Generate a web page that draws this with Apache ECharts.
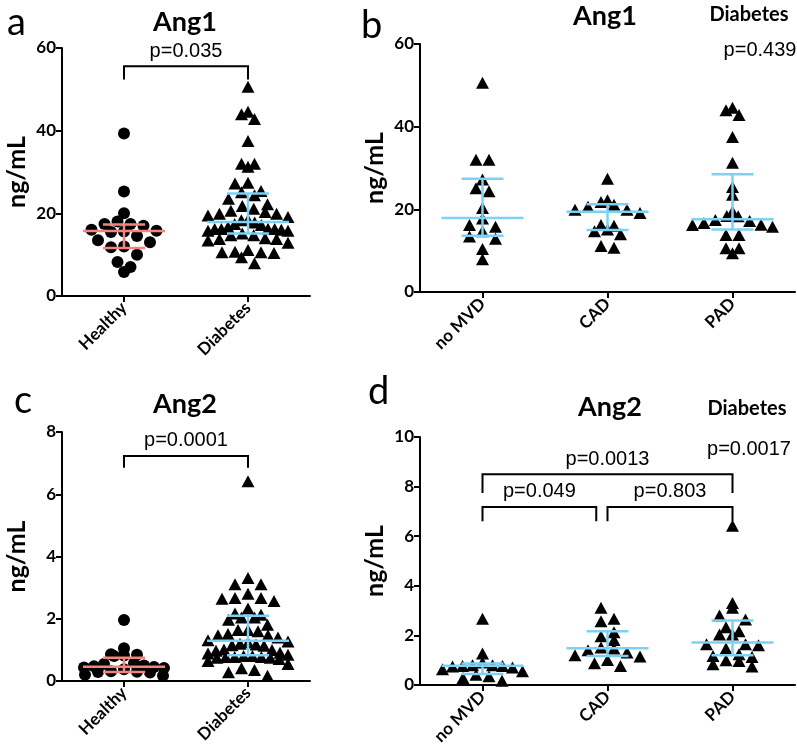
<!DOCTYPE html>
<html>
<head>
<meta charset="utf-8">
<script src="https://cdn.jsdelivr.net/npm/echarts@6/dist/echarts.min.js"></script>
<style>
html,body{margin:0;padding:0;background:#fff;}
#chart{width:797px;height:755px;}
</style>
</head>
<body>
<div id="chart"></div>
<script>
// ---------------- DATA ----------------
const catsHealthyDiabetes = ['Healthy', 'Diabetes'];
const catsDiabetesGroups = ['no MVD', 'CAD', 'PAD'];

// Ang1 (ng/mL)
const ang1Healthy = [39.3, 25.3, 20.0, 18.0, 17.4, 17.4, 17.0, 16.0, 15.8, 15.6, 15.5, 14.5, 13.5, 13.0, 12.0, 11.8, 10.0, 8.2, 7.0, 5.8];
const ang1NoMVD = [50.6, 32.0, 32.0, 27.2, 25.1, 24.4, 20.3, 17.8, 16.2, 15.8, 14.7, 13.4, 12.9, 10.4, 7.9];
const ang1CAD = [27.4, 22.2, 21.8, 21.1, 20.6, 19.9, 19.9, 19.1, 16.2, 16.0, 15.1, 14.7, 14.0, 11.1, 10.7];
const ang1PAD = [44.6, 44.0, 42.8, 37.5, 31.3, 25.4, 23.5, 19.5, 18.4, 18.3, 17.4, 17.2, 16.7, 16.3, 16.2, 15.8, 13.8, 13.8, 10.6, 10.6, 9.4];
const ang1Diabetes = ang1NoMVD.concat(ang1CAD, ang1PAD);

// Ang2 (ng/mL)
const ang2Healthy = [1.96, 1.05, 0.86, 0.84, 0.82, 0.80, 0.57, 0.55, 0.50, 0.47, 0.45, 0.43, 0.42, 0.38, 0.31, 0.30, 0.29, 0.27, 0.20, 0.17];
const ang2NoMVD = [2.67, 1.27, 0.91, 0.80, 0.80, 0.77, 0.77, 0.75, 0.71, 0.64, 0.55, 0.41, 0.35, 0.28, 0.17];
const ang2CAD = [3.11, 2.67, 2.57, 2.13, 1.97, 1.81, 1.51, 1.47, 1.40, 1.31, 1.20, 1.15, 1.01, 0.88, 0.77];
const ang2PAD = [6.42, 3.31, 3.11, 2.80, 2.64, 2.33, 2.17, 2.04, 2.04, 1.64, 1.64, 1.60, 1.47, 1.24, 1.17, 1.13, 1.00, 0.97, 0.84, 0.75];
const ang2Diabetes = ang2NoMVD.concat(ang2CAD, ang2PAD);

// median, Q1, Q3 as drawn
const ang1StatsA = [[15.7, 11.6, 17.3], [17.9, 15.1, 24.8]];
const ang1StatsB = [[17.9, 13.6, 27.4], [19.4, 15.0, 21.2], [17.6, 15.1, 28.5]];
const ang2StatsC = [[0.46, 0.29, 0.75], [1.29, 0.83, 2.10]];
const ang2StatsD = [[0.78, 0.44, 0.87], [1.48, 1.17, 2.17], [1.71, 1.20, 2.60]];

const yTicksAng1 = [0, 20, 40, 60];
const yTicksAng2A = [0, 2, 4, 6, 8];
const yTicksAng2B = [0, 2, 4, 6, 8, 10];

// ---------------- LAYOUT / STYLE ----------------
const PINK = '#F4857E';
const BLUE = '#7DD1F5';
const LABEL_FONT = 'Lato';
const P_FONT = '"Liberation Sans", Arial, sans-serif';

const panels = [
  { grid: {left: 62, top: 48, width: 248, height: 248}, cats: catsHealthyDiabetes,
    groups: [ang1Healthy, ang1Diabetes], symbols: ['circle', 'triangle'], colors: [PINK, BLUE],
    stats: ang1StatsA, ticks: yTicksAng1,
    brackets: [{from: 0, to: 1, top: 55.6, drop: 52.4, text: 'p=0.035'}] },
  { grid: {left: 420, top: 44, width: 375, height: 248}, cats: catsDiabetesGroups,
    groups: [ang1NoMVD, ang1CAD, ang1PAD], symbols: ['triangle', 'triangle', 'triangle'], colors: [BLUE, BLUE, BLUE],
    stats: ang1StatsB, ticks: yTicksAng1, brackets: [] },
  { grid: {left: 62, top: 432, width: 248, height: 249}, cats: catsHealthyDiabetes,
    groups: [ang2Healthy, ang2Diabetes], symbols: ['circle', 'triangle'], colors: [PINK, BLUE],
    stats: ang2StatsC, ticks: yTicksAng2A,
    brackets: [{from: 0, to: 1, top: 7.23, drop: 6.85, text: 'p=0.0001'}] },
  { grid: {left: 420, top: 437, width: 375, height: 248}, cats: catsDiabetesGroups,
    groups: [ang2NoMVD, ang2CAD, ang2PAD], symbols: ['triangle', 'triangle', 'triangle'], colors: [BLUE, BLUE, BLUE],
    stats: ang2StatsD, ticks: yTicksAng2B,
    brackets: [
      {from: 0, to: 2, top: 8.5, drop: 7.74, text: 'p=0.0013'},
      {from: 0, to: 0.91, top: 7.18, drop: 6.6, text: 'p=0.049'},
      {from: 1, to: 2, top: 7.18, drop: 6.6, text: 'p=0.803'}
    ] }
];

// GraphPad-like scatter layout: points binned in rows of rowPx pixels,
// spread symmetrically (largest value in the middle) with spacing <= wx,
// compressed so that a row never exceeds +-maxHalf pixels.
function rowSwarm(values, pxPerUnit, rowPx, wx, maxHalf) {
  const rows = {};
  values.forEach((v, i) => {
    const r = Math.floor(v * pxPerUnit / rowPx);
    (rows[r] = rows[r] || []).push(i);
  });
  const xs = new Array(values.length).fill(0);
  Object.keys(rows).forEach(r => {
    const ids = rows[r].slice().sort((a, b) => values[b] - values[a]);
    const m = ids.length;
    const sp = m > 1 ? Math.min(wx, 2 * maxHalf / (m - 1)) : 0;
    const slots = [];
    for (let j = 0; j < m; j++) slots.push(j - (m - 1) / 2);
    slots.sort((a, b) => (Math.abs(a) - Math.abs(b)) || (a - b));
    ids.forEach((id, j) => { xs[id] = slots[j] * sp; });
  });
  return xs;
}

const grids = [], xAxes = [], yAxes = [], series = [];
panels.forEach((P, g) => {
  const n = P.cats.length;
  const yMax = P.ticks[P.ticks.length - 1];
  const yInt = P.ticks[1] - P.ticks[0];
  const band = P.grid.width / n;
  const ppu = P.grid.height / yMax;
  grids.push(Object.assign({containLabel: false}, P.grid));
  xAxes.push({
    type: 'category', gridIndex: g, data: P.cats, boundaryGap: true,
    axisLine: {show: true, onZero: false, lineStyle: {color: '#000', width: 2}},
    axisTick: {show: true, alignWithLabel: true, length: 6, lineStyle: {color: '#000', width: 2}},
    axisLabel: {rotate: 45, margin: 9, color: '#000', fontFamily: LABEL_FONT, fontWeight: 'bold', fontSize: 17},
    splitLine: {show: false}
  });
  xAxes.push({type: 'value', gridIndex: g, min: -0.5, max: n - 0.5, show: false});
  yAxes.push({
    type: 'value', gridIndex: g, min: 0, max: yMax, interval: yInt,
    name: 'ng/mL', nameLocation: 'middle', nameGap: 33, nameRotate: 90,
    nameTextStyle: {fontFamily: LABEL_FONT, fontWeight: 'bold', fontSize: 25, color: '#000'},
    axisLine: {show: true, onZero: false, lineStyle: {color: '#000', width: 2}},
    axisTick: {show: true, length: 6, lineStyle: {color: '#000', width: 2}},
    axisLabel: {color: '#000', fontFamily: LABEL_FONT, fontWeight: 'bold', fontSize: 17, margin: 6},
    splitLine: {show: false}
  });
  // points
  P.groups.forEach((vals, k) => {
    const offs = rowSwarm(vals, ppu, 13, 13, 40);
    series.push({
      type: 'scatter', xAxisIndex: 2 * g + 1, yAxisIndex: g,
      symbol: P.symbols[k], symbolSize: P.symbols[k] === 'circle' ? 12 : [13, 12],
      itemStyle: {color: '#000', opacity: 1}, silent: true, z: 2,
      data: vals.map((v, i) => [k + offs[i] / band, v])
    });
  });
  // median + IQR
  const colors = P.colors;
  series.push({
    type: 'custom', xAxisIndex: 2 * g + 1, yAxisIndex: g, silent: true, z: 5,
    data: P.stats.map((s, k) => [k, s[0], s[1], s[2]]),
    renderItem: function (params, api) {
      const c = api.value(0);
      const pm = api.coord([c, api.value(1)]);
      const p1 = api.coord([c, api.value(2)]);
      const p3 = api.coord([c, api.value(3)]);
      const style = {stroke: colors[params.dataIndex], lineWidth: 2.5};
      return {type: 'group', children: [
        {type: 'line', shape: {x1: pm[0], y1: p1[1], x2: pm[0], y2: p3[1]}, style: style},
        {type: 'line', shape: {x1: pm[0] - 41, y1: pm[1], x2: pm[0] + 41, y2: pm[1]}, style: style},
        {type: 'line', shape: {x1: pm[0] - 21, y1: p1[1], x2: pm[0] + 21, y2: p1[1]}, style: style},
        {type: 'line', shape: {x1: pm[0] - 21, y1: p3[1], x2: pm[0] + 21, y2: p3[1]}, style: style}
      ]};
    }
  });
  // significance brackets
  if (P.brackets.length) {
    const br = P.brackets;
    series.push({
      type: 'custom', xAxisIndex: 2 * g + 1, yAxisIndex: g, silent: true, z: 6, clip: false,
      data: br.map(b => [b.from, b.to, b.top, b.drop]),
      renderItem: function (params, api) {
        const a = api.coord([api.value(0), api.value(2)]);
        const b = api.coord([api.value(1), api.value(2)]);
        const d = api.coord([api.value(0), api.value(3)]);
        return {type: 'group', children: [
          {type: 'polyline', shape: {points: [[a[0], d[1]], a, b, [b[0], d[1]]]},
           style: {stroke: '#000', lineWidth: 2, fill: null}},
          {type: 'text', x: (a[0] + b[0]) / 2, y: a[1] - 5,
           style: {text: br[params.dataIndex].text, font: '20px ' + P_FONT, fill: '#000',
                   align: 'center', verticalAlign: 'bottom', textAlign: 'center', textVerticalAlign: 'bottom'}}
        ]};
      }
    });
  }
});

function txt(s, x, y, font, align) {
  return {type: 'text', x: x, y: y, silent: true,
    style: {text: s, font: font, fill: '#000', align: align || 'center', verticalAlign: 'middle',
            textAlign: align || 'center', textVerticalAlign: 'middle'}};
}

const graphics = [
  txt('a', 7, 23, '38px Lato', 'left'),
  txt('b', 361, 26, '38px Lato', 'left'),
  txt('c', 14, 401, '38px Lato', 'left'),
  txt('d', 368, 392, '38px Lato', 'left'),
  txt('Ang1', 185, 22, 'bold 27px Lato'),
  txt('Ang1', 605, 16, 'bold 27px Lato'),
  txt('Ang2', 185, 404, 'bold 27px Lato'),
  txt('Ang2', 610, 407, 'bold 27px Lato'),
  txt('Diabetes', 749, 15, 'bold 20px Lato'),
  txt('Diabetes', 747, 409, 'bold 20px Lato'),
  txt('p=0.439', 760, 50, '20px ' + P_FONT),
  txt('p=0.0017', 749, 449, '20px ' + P_FONT)
];

const chart = echarts.init(document.getElementById('chart'), null, {renderer: 'canvas'});
chart.setOption({
  backgroundColor: '#fff',
  animation: false,
  grid: grids,
  xAxis: xAxes,
  yAxis: yAxes,
  series: series,
  graphic: graphics
});
</script>
</body>
</html>
